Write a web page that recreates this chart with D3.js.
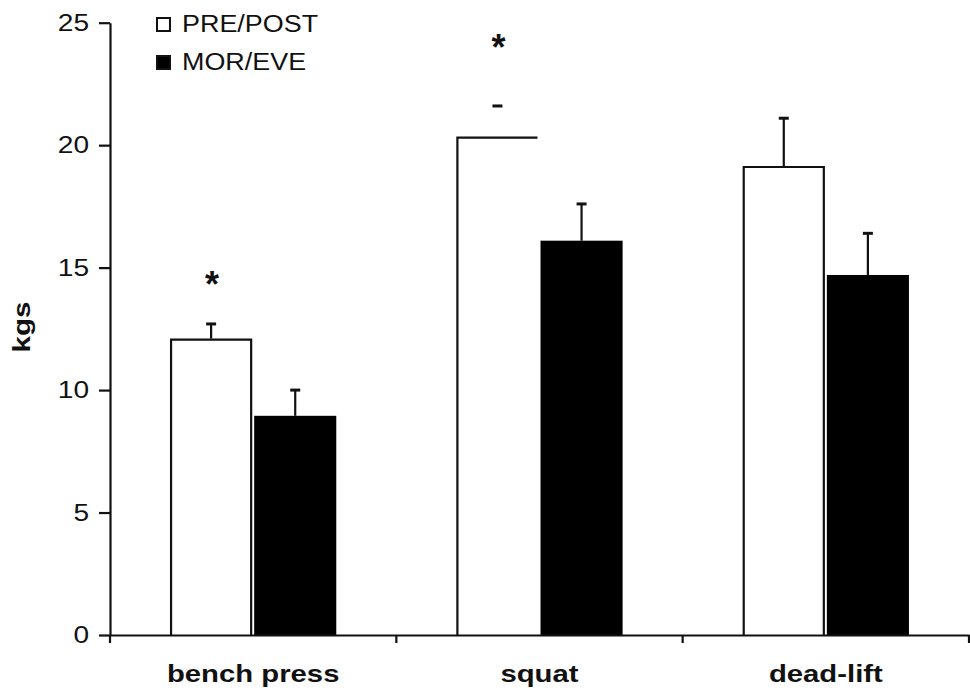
<!DOCTYPE html>
<html>
<head>
<meta charset="utf-8">
<script src="https://cdn.jsdelivr.net/npm/d3@7"></script>
<style>
  html, body { margin: 0; padding: 0; background: #fff; }
  svg { display: block; }
  text { font-family: "Liberation Sans", Arial, Helvetica, sans-serif; fill: #111; }
</style>
</head>
<body>
<script>
// ---- data ----
const categories = ["bench press", "squat", "dead-lift"];
const seriesNames = ["PRE/POST", "MOR/EVE"];
const prePost = [12.1, 20.35, 19.15];
const prePostErr = [0.6, 1.25, 1.95];
const morEve = [8.95, 16.1, 14.7];
const morEveErr = [1.05, 1.5, 1.7];
const yTicks = [0, 5, 10, 15, 20, 25];
const sigStars = [14.6, 24.3, null];      // level (kgs) of the "*" significance marks
const openOutline = ["squat"];             // PRE/POST bar printed without right edge / whisker
const yLabel = "kgs";

// ---- layout ----
const W = 970, H = 692;
const svg = d3.select("body").append("svg").attr("width", W).attr("height", H);

const y = d3.scaleLinear().domain([0, 25]).range([635, 22.7]);
const x0 = d3.scaleBand().domain(categories).range([110, 969]);
const x1 = d3.scaleBand().domain(seriesNames).range([0, x0.bandwidth()])
  .paddingInner(0.024).paddingOuter(0.714);

function stretch(sel, f) {
  sel.each(function () {
    const L = this.getComputedTextLength();
    d3.select(this).attr("textLength", L * f).attr("lengthAdjust", "spacingAndGlyphs");
  });
}

const rows = categories.map((c, i) => ({
  cat: c,
  vals: [
    { s: seriesNames[0], v: prePost[i], e: prePostErr[i] },
    { s: seriesNames[1], v: morEve[i], e: morEveErr[i] }
  ],
  star: sigStars[i]
}));

// ---- bars ----
const groups = svg.append("g").selectAll("g").data(rows).join("g")
  .attr("transform", d => `translate(${x0(d.cat)},0)`);

groups.each(function (d) {
  const g = d3.select(this);
  d.vals.forEach((b, j) => {
    const bx = x1(b.s), bw = x1.bandwidth();
    const top = y(b.v), base = y(0);
    const open = j === 0 && openOutline.includes(d.cat);
    if (j === 0) {
      g.append("rect").attr("x", bx).attr("y", top).attr("width", bw).attr("height", base - top)
        .attr("fill", "#fff");
      const p = d3.path();
      p.moveTo(bx + 1, base); p.lineTo(bx + 1, top + 1); p.lineTo(bx + bw - 1, top + 1);
      if (!open) p.lineTo(bx + bw - 1, base);
      g.append("path").attr("d", p.toString()).attr("fill", "none")
        .attr("stroke", "#111").attr("stroke-width", 2.2);
    } else {
      g.append("rect").attr("x", bx).attr("y", top).attr("width", bw).attr("height", base - top)
        .attr("fill", "#000");
    }
    const cx = bx + bw / 2;
    if (!open) {
      g.append("line").attr("x1", cx).attr("x2", cx).attr("y1", top).attr("y2", y(b.v + b.e))
        .attr("stroke", "#111").attr("stroke-width", 2.2);
    }
    g.append("line").attr("x1", cx - 5).attr("x2", cx + 5)
      .attr("y1", y(b.v + b.e)).attr("y2", y(b.v + b.e))
      .attr("stroke", "#111").attr("stroke-width", 3);
  });
  if (d.star != null) {
    const cx = x1(seriesNames[0]) + x1.bandwidth() / 2 + 1;
    g.append("text").attr("x", cx).attr("y", y(d.star)).attr("dy", "0.55em")
      .attr("text-anchor", "middle").attr("font-size", 36).attr("font-weight", "bold")
      .text("*");
  }
});

// ---- y axis ----
const yAxis = svg.append("g").attr("transform", "translate(110,0)")
  .call(d3.axisLeft(y).tickValues(yTicks).tickSize(11).tickSizeOuter(0).tickPadding(10));
yAxis.select(".domain").attr("stroke", "#111").attr("stroke-width", 2.2);
yAxis.selectAll(".tick line").attr("stroke", "#111").attr("stroke-width", 2.2);
yAxis.selectAll(".tick text").attr("font-size", 24).attr("fill", "#111")
  .style("font-family", '"Liberation Sans", Arial, sans-serif').call(stretch, 1.17);

// ---- x axis ----
const xAxis = svg.append("g").attr("transform", "translate(0,635)")
  .call(d3.axisBottom(x0).tickSize(0).tickSizeOuter(0).tickPadding(30));
xAxis.select(".domain").attr("stroke", "#111").attr("stroke-width", 2.2);
xAxis.selectAll(".tick text").attr("font-size", 24).attr("font-weight", "bold").attr("fill", "#111")
  .style("font-family", '"Liberation Sans", Arial, sans-serif').call(stretch, 1.22);
const bounds = categories.map(c => x0(c)).concat([x0.range()[1]]);
xAxis.selectAll("line.bound").data(bounds).join("line").attr("class", "bound")
  .attr("x1", d => d).attr("x2", d => d).attr("y1", 0).attr("y2", 8)
  .attr("stroke", "#111").attr("stroke-width", 2.2);

// ---- y label ----
svg.append("text").attr("transform", "translate(30,327) rotate(-90)")
  .attr("text-anchor", "middle").attr("font-size", 24).attr("font-weight", "bold")
  .text(yLabel).call(stretch, 1.23);

// ---- legend ----
const legend = svg.append("g").attr("transform", "translate(156,17)");
seriesNames.forEach((s, i) => {
  const gy = i * 38;
  legend.append("rect").attr("x", 1).attr("y", gy + 1).attr("width", 13).attr("height", 13)
    .attr("fill", i === 0 ? "#fff" : "#000").attr("stroke", "#111").attr("stroke-width", 2);
  legend.append("text").attr("x", 26).attr("y", gy + 15).attr("font-size", 23)
    .text(s).call(stretch, 1.17);
});
</script>
</body>
</html>
